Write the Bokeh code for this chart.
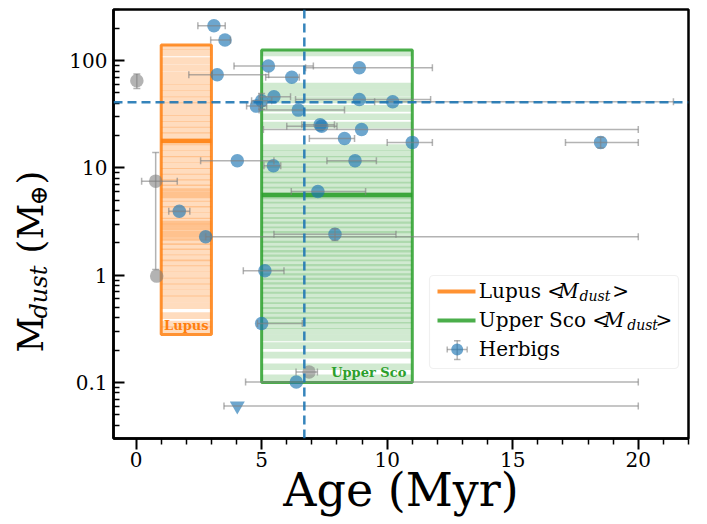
import math
from bokeh.plotting import figure
from bokeh.layouts import row
from bokeh.models import (ColumnDataSource, Whisker, TeeHead, Span, Label, BoxAnnotation,
                          FixedTicker, CustomJSTickFormatter)
from bokeh.embed import file_html
from bokeh.resources import INLINE

# ---------------- data ----------------
herbig_age    = [3.10, 3.54, 5.27, 8.89, 3.23, 6.20, 0.03, 5.49, 5.00, 4.79, 6.46, 8.89, 10.22,
                 7.39, 7.33, 8.98, 8.30, 11.00, 18.50, 4.03, 5.47, 8.72, 0.78, 7.24, 1.72, 7.92,
                 2.77, 0.82, 5.13, 5.00, 6.89, 6.38, 4.03]
herbig_age_lo = [2.46, 2.97, 3.90, 6.75, 2.10, 5.16, 0.03, 4.90, 4.60, 4.40, 4.90, 6.35, 9.50,
                 6.00, 6.60, 5.07, 6.90, 10.00, 17.10, 2.57, 5.09, 7.60, 0.22, 6.18, 1.30, 5.49,
                 2.77, 0.82, 4.27, 4.83, 6.37, 4.36, 3.50]
herbig_age_hi = [3.55, 3.76, 7.06, 11.80, 5.28, 6.50, 0.03, 6.15, 5.40, 5.20, 8.30, 11.73, 21.40,
                 8.00, 7.90, 20.00, 8.70, 11.80, 20.00, 5.49, 5.76, 9.57, 1.64, 9.14, 2.14, 10.35,
                 20.00, 0.82, 5.89, 6.62, 7.22, 20.00, 20.00]
herbig_mdust  = [212, 156, 89, 86, 74, 70, 65, 46, 42.3, 37.7, 34.6, 43.5, 41.4,
                 24.5, 25.2, 22.8, 18.8, 17.3, 17.3, 11.65, 10.5, 11.65, 7.53, 6.02, 3.95, 2.41,
                 2.28, 0.98, 1.10, 0.354, 0.125, 0.101, 0.0604]
herbig_mdust_err = [0, 0, 0, 0, 0, 0, 10, 0, 7, 0, 0, 0, 0,
                    0, 0, 0, 0, 0, 2, 0, 0, 0, 6.4, 0, 0, 0.3,
                    0, 0, 0, 0, 0, 0, 0]
herbig_kind = ["d", "d", "d", "d", "d", "d", "g", "d", "d", "d", "d", "d", "d",
               "d", "d", "d", "d", "d", "d", "d", "d", "d", "g", "d", "d", "d",
               "d", "g", "d", "d", "g", "d", "lim"]

lupus_age_range = [1.0, 3.0]
lupus_mdust_range = [0.28, 140]
lupus_mean = 17.8
lupus_mdust = [135, 118, 100, 86, 74, 64, 56, 49, 43, 38, 33, 29, 25.5, 22.5, 20, 17.5, 15.5,
               13.5, 12, 10.5, 9.3, 8.2, 7.3, 6.5, 6.0, 5.6, 5.2, 4.6, 4.1, 3.6, 3.2, 3.0, 2.8,
               2.6, 2.4, 2.25, 2.05, 1.85, 1.65, 1.45, 1.3, 1.15, 1.0, 0.88, 0.78, 0.68, 0.6,
               0.52, 0.42, 0.35, 0.31]

usco_age_range = [5.0, 11.0]
usco_mdust_range = [0.1, 126]
usco_mean = 5.6
usco_mdust = [118, 58, 50, 43, 36, 30, 25, 15.5, 13.5, 12, 10.8, 9.6, 8.6, 7.7, 6.9, 6.2, 5.5,
              5.0, 4.5, 4.0, 3.6, 3.25, 2.95, 2.65, 2.4, 2.15, 1.95, 1.75, 1.6, 1.45, 1.3,
              1.18, 1.07, 0.97, 0.88, 0.8, 0.72, 0.65, 0.58, 0.52, 0.47, 0.42, 0.38, 0.34,
              0.3, 0.26, 0.22, 0.18, 0.14, 0.11]

ref_age = 6.7
ref_mdust = 41

x_major = [0, 5, 10, 15, 20]
x_minor = [v for v in range(1, 23) if v % 5 != 0]
y_major = [0.1, 1, 10, 100]
y_minor = [m * d for d in (0.01, 0.1, 1, 10, 100) for m in range(2, 10) if 0.03 <= m * d <= 300]

C0, C1, C2 = "#1f77b4", "#ff7f0e", "#2ca02c"
SERIF = "DejaVu Serif"

# ---------------- geometry (page pixels) ----------------
YL_W = 58            # width of the y-label strip
MAIN_W = 700 - YL_W
MAIN_H = 522
BSHIFT = 0.4         # measured offset of the 'alphabetic' anchor, in em

# ---------------- main figure ----------------
p = figure(width=MAIN_W, height=MAIN_H, x_range=(-0.9, 22), y_range=(0.03, 300),
           y_axis_type="log", output_backend="svg", toolbar_location=None,
           min_border_left=113 - YL_W, min_border_right=12, min_border_top=9,
           min_border_bottom=MAIN_H - 438)
p.xgrid.visible = False
p.ygrid.visible = False
p.outline_line_color = "black"
p.outline_line_width = 2.5
p.outline_line_alpha = 1

for ax in (p.xaxis[0], p.yaxis[0]):
    ax.axis_line_width = 2.5
    ax.axis_line_color = "black"
    ax.major_tick_line_width = 2
    ax.minor_tick_line_width = 1.5
    ax.major_tick_line_color = "black"
    ax.minor_tick_line_color = "black"
    ax.major_label_text_font = SERIF
    ax.major_label_text_font_size = "20px"
    ax.major_label_text_color = "black"

p.xaxis.ticker = FixedTicker(ticks=x_major, minor_ticks=x_minor)
p.xaxis.major_tick_out = 11
p.xaxis.major_tick_in = 0
p.xaxis.minor_tick_out = 6
p.xaxis.minor_tick_in = 0
p.xaxis.major_label_standoff = 2
p.xaxis.axis_label = "Age (Myr)"
p.xaxis.axis_label_text_font = SERIF
p.xaxis.axis_label_text_font_size = "46px"
p.xaxis.axis_label_text_font_style = "normal"
p.xaxis.axis_label_text_color = "black"
p.xaxis.axis_label_standoff = -7

p.yaxis.ticker = FixedTicker(ticks=y_major, minor_ticks=y_minor)
p.yaxis.formatter = CustomJSTickFormatter(code="return String(tick)")
p.yaxis.major_tick_in = 11
p.yaxis.major_tick_out = 0
p.yaxis.minor_tick_in = 6
p.yaxis.minor_tick_out = 0
p.yaxis.major_label_standoff = 6

# ---------------- region boxes ----------------
def stripes(vals, rng):
    f = 1.075
    return ColumnDataSource(dict(bottom=[max(v / f, rng[0]) for v in vals],
                                 top=[min(v * f, rng[1]) for v in vals]))

p.quad(left=lupus_age_range[0], right=lupus_age_range[1], bottom="bottom", top="top",
       source=stripes(lupus_mdust, lupus_mdust_range), fill_color=C1, fill_alpha=0.27,
       line_color=None)
p.quad(left=usco_age_range[0], right=usco_age_range[1], bottom="bottom", top="top",
       source=stripes(usco_mdust, usco_mdust_range), fill_color=C2, fill_alpha=0.22,
       line_color=None)

p.quad(left=lupus_age_range[0], right=lupus_age_range[1], bottom=lupus_mdust_range[0],
       top=lupus_mdust_range[1], fill_alpha=0, line_color=C1, line_width=3, line_alpha=0.85)
p.quad(left=usco_age_range[0], right=usco_age_range[1], bottom=usco_mdust_range[0],
       top=usco_mdust_range[1], fill_alpha=0, line_color=C2, line_width=3, line_alpha=0.85)
p.segment(x0=lupus_age_range[0], x1=lupus_age_range[1], y0=lupus_mean, y1=lupus_mean,
          line_color=C1, line_width=4.5, line_alpha=0.9)
p.segment(x0=usco_age_range[0], x1=usco_age_range[1], y0=usco_mean, y1=usco_mean,
          line_color=C2, line_width=4.5, line_alpha=0.9)

p.add_layout(Label(x=sum(lupus_age_range) / 2, y=lupus_mdust_range[0], y_offset=1,
                   text="Lupus", text_align="center", text_baseline="bottom",
                   text_font=SERIF, text_font_style="bold", text_font_size="13px",
                   text_color=C1))
p.add_layout(Label(x=usco_age_range[1], y=usco_mdust_range[0], x_offset=-6, y_offset=10,
                   text="Upper Sco", text_align="right", text_baseline="alphabetic",
                   text_font=SERIF, text_font_style="bold", text_font_size="13px",
                   text_color=C2))

# reference lines
p.add_layout(Span(location=ref_mdust, dimension="width", line_color=C0, line_width=2.5,
                  line_dash="9 5", line_alpha=0.9))
p.add_layout(Span(location=ref_age, dimension="height", line_color=C0, line_width=2.5,
                  line_dash="9 5", line_alpha=0.9))

# ---------------- error bars ----------------
n = len(herbig_age)
xi = [i for i in range(n) if herbig_age_hi[i] > herbig_age_lo[i]]
xsrc = ColumnDataSource(dict(y=[herbig_mdust[i] for i in xi],
                             lo=[herbig_age_lo[i] for i in xi],
                             hi=[herbig_age_hi[i] for i in xi]))
yi = [i for i in range(n) if herbig_mdust_err[i] > 0]
ysrc = ColumnDataSource(dict(x=[herbig_age[i] for i in yi],
                             lo=[herbig_mdust[i] - herbig_mdust_err[i] for i in yi],
                             hi=[herbig_mdust[i] + herbig_mdust_err[i] for i in yi]))

def head():
    return TeeHead(size=7, line_color="gray", line_alpha=0.6, line_width=1.5)

p.add_layout(Whisker(source=xsrc, base="y", lower="lo", upper="hi", dimension="width",
                     line_color="gray", line_alpha=0.6, line_width=1.5,
                     lower_head=head(), upper_head=head(), level="glyph"))
p.add_layout(Whisker(source=ysrc, base="x", lower="lo", upper="hi", dimension="height",
                     line_color="gray", line_alpha=0.6, line_width=1.5,
                     lower_head=head(), upper_head=head(), level="glyph"))

# ---------------- points ----------------
def sel(kind):
    idx = [i for i in range(n) if herbig_kind[i] == kind]
    return ColumnDataSource(dict(x=[herbig_age[i] for i in idx], y=[herbig_mdust[i] for i in idx]))

p.scatter("x", "y", source=sel("d"), size=13.5, fill_color=C0, fill_alpha=0.65, line_color=None)
p.scatter("x", "y", source=sel("g"), size=13.5, fill_color="gray", fill_alpha=0.6, line_color=None)
p.scatter("x", "y", source=sel("lim"), marker="inverted_triangle", size=15,
          fill_color=C0, fill_alpha=0.65, line_color=None)

# ---------------- helpers (page pixel coords -> canvas) ----------------
def box(fig, ox, oy, l, r, t, b, **kw):
    fig.add_layout(BoxAnnotation(left=l - ox, right=r - ox, top=t - oy, bottom=b - oy,
                                 left_units="canvas", right_units="canvas",
                                 top_units="canvas", bottom_units="canvas",
                                 level="overlay", **kw))

def txt(fig, ox, oy, x, y, s, size=20, style="normal", angle=0, align="left"):
    # (x, y) is the wanted baseline point in page pixels
    dx, dy = 0.0, -BSHIFT * size
    if angle:
        dx, dy = -BSHIFT * size, 0.0
    fig.add_layout(Label(x=x - ox + dx, y=y - oy + dy, x_units="canvas", y_units="canvas",
                         text=s, angle=angle, text_font=SERIF, text_font_size=f"{size}px",
                         text_font_style=style, text_align=align, text_baseline="alphabetic",
                         text_color="black", level="overlay"))

# ---------------- manual legend ----------------
OX, OY = YL_W, 0
box(p, OX, OY, 429, 678, 275, 368, fill_color="white", fill_alpha=0.8, line_color="#cccccc",
    line_width=1.2, border_radius=4)
box(p, OX, OY, 437, 475, 289, 293, fill_color=C1, fill_alpha=0.85, line_color=None)
box(p, OX, OY, 437, 475, 318, 322, fill_color=C2, fill_alpha=0.85, line_color=None)
for (l, r, t, b) in [(446.5, 466.5, 348.3, 349.7), (456, 457.4, 340, 359),
                     (446, 447.4, 346, 352), (466, 467.4, 346, 352),
                     (453.5, 460, 339.5, 340.9), (453.5, 460, 358.3, 359.7)]:
    box(p, OX, OY, l, r, t, b, fill_color="gray", fill_alpha=0.6, line_color=None)
box(p, OX, OY, 450.7, 462.7, 343, 355, fill_color=C0, fill_alpha=0.65, line_color=None,
    border_radius=6)

txt(p, OX, OY, 478.3, 298.3, "Lupus <")
txt(p, OX, OY, 557.7, 298.3, "M", style="italic")
txt(p, OX, OY, 579.0, 301.5, "dust", size=14, style="italic")
txt(p, OX, OY, 611.7, 298.3, ">")
txt(p, OX, OY, 478.3, 327.3, "Upper Sco <")
txt(p, OX, OY, 603.3, 327.3, "M", style="italic")
txt(p, OX, OY, 626.7, 330.5, "dust", size=14, style="italic")
txt(p, OX, OY, 655.0, 327.3, ">")
txt(p, OX, OY, 478.3, 356.0, "Herbigs")

# ---------------- y-axis label strip ----------------
yl = figure(width=YL_W, height=MAIN_H, x_range=(0, 1), y_range=(0, 1),
            output_backend="svg", toolbar_location=None, x_axis_location=None,
            y_axis_location=None, min_border=0)
yl.outline_line_color = None
yl.grid.visible = False
A = math.pi / 2
txt(yl, 0, 0, 44, 352, "M", size=35, angle=A)
txt(yl, 0, 0, 48, 318, "dust", size=24, style="italic", angle=A)
txt(yl, 0, 0, 44, 253, "(", size=35, angle=A)
txt(yl, 0, 0, 44, 239, "M", size=35, angle=A)
txt(yl, 0, 0, 48, 205, "\u2295", size=24, angle=A)
txt(yl, 0, 0, 44, 184, ")", size=35, angle=A)

layout = row(yl, p)
open("out.html", "w").write(file_html(layout, INLINE))
